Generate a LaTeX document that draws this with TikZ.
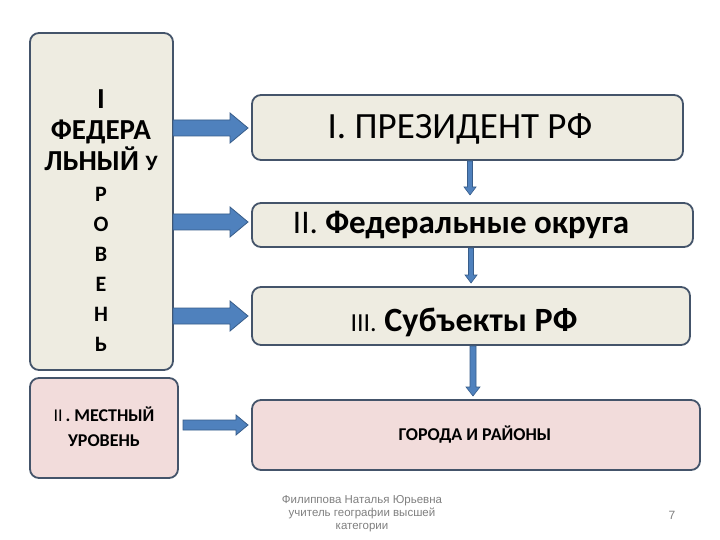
\documentclass[tikz,border=0pt]{standalone}
\usepackage{fontspec}
\setmainfont{Carlito}
\newfontfamily\foot{Liberation Sans}
\definecolor{beige}{HTML}{EEECE1}
\definecolor{pinkb}{HTML}{F2DCDB}
\definecolor{edge}{HTML}{44546A}
\definecolor{arf}{HTML}{4F81BD}
\definecolor{ard}{HTML}{385D8A}
% horizontal block arrow: x1,x2,y,shaft half,head half,head length
\newcommand\harr[6]{\filldraw[fill=arf,draw=ard,line width=0.8pt,line join=miter]
 (#1,#3-#4) -- (#2-#6,#3-#4) -- (#2-#6,#3-#5) -- (#2,#3) -- (#2-#6,#3+#5) -- (#2-#6,#3+#4) -- (#1,#3+#4) -- cycle;}
\newcommand\varr[6]{\filldraw[fill=arf,draw=ard,line width=0.6pt,line join=miter]
 (#3-#4,#1) -- (#3-#4,#2-#6) -- (#3-#5,#2-#6) -- (#3,#2) -- (#3+#5,#2-#6) -- (#3+#4,#2-#6) -- (#3+#4,#1) -- cycle;}
\begin{document}
\begin{tikzpicture}[x=1pt,y=-1pt,
  box/.style={draw=edge,line width=1.8pt,rounded corners=9pt}]
\useasboundingbox (0,0) rectangle (720,540);
\fill[white] (0,0) rectangle (720,540);
\draw[box,fill=beige] (30,33) rectangle (173,370);
\draw[box,fill=pinkb] (30,378) rectangle (178,478);
\draw[box,fill=beige] (252,95) rectangle (683,160);
\draw[box,fill=beige] (252,203) rectangle (693,247);
\draw[box,fill=beige] (252,287) rectangle (690,345);
\draw[box,fill=pinkb] (252,400) rectangle (700,470);
\node[font=\bfseries\fontsize{29}{31}\selectfont,align=center] (fed) at (101,221)
 {I\\ФЕДЕРА\\ЛЬНЫЙ {\fontsize{22}{30}\selectfont У}\\{\fontsize{22}{30}\selectfont Р}\\[-1pt]{\fontsize{22}{30}\selectfont О}\\[-1pt]{\fontsize{22}{30}\selectfont В}\\[-1pt]{\fontsize{22}{30}\selectfont Е}\\[-1pt]{\fontsize{22}{30}\selectfont Н}\\[-1pt]{\fontsize{22}{30}\selectfont Ь}};
\node[font=\bfseries\fontsize{18}{25}\selectfont,align=center] (loc) at (104,427) {{\mdseries II}\,. МЕСТНЫЙ\\УРОВЕНЬ};
\node[font=\fontsize{37}{40}\selectfont] (pres) at (460,129) {I. ПРЕЗИДЕНТ РФ};
\node[font=\fontsize{33}{36}\selectfont] (okr) at (461,225) {II. \textbf{Федеральные округа}};
\node[font=\fontsize{34}{36}\selectfont] (subj) at (464,322) {{\fontsize{26}{30}\selectfont III.} \textbf{Субъекты РФ}};
\node[font=\bfseries\fontsize{18}{20}\selectfont] (gor) at (475,435) {ГОРОДА И РАЙОНЫ};
\harr{173}{248}{128}{8}{15}{18}
\harr{173}{248}{222}{8}{15}{18}
\harr{173}{248}{316}{8}{15}{18}
\harr{183}{248}{425}{5}{10}{12}
\varr{161}{195}{470}{2.5}{6}{8}
\varr{248}{283}{471}{2.5}{6}{8}
\varr{346}{396}{473}{3}{7}{9}
\node[font=\foot\fontsize{11.5}{13}\selectfont,text=gray,align=center] (ft) at (362,514) {Филиппова Наталья Юрьевна\\учитель географии высшей\\категории};
\node[font=\foot\fontsize{12}{14}\selectfont,text=gray] (pg) at (672,515) {7};
\end{tikzpicture}
\end{document}
